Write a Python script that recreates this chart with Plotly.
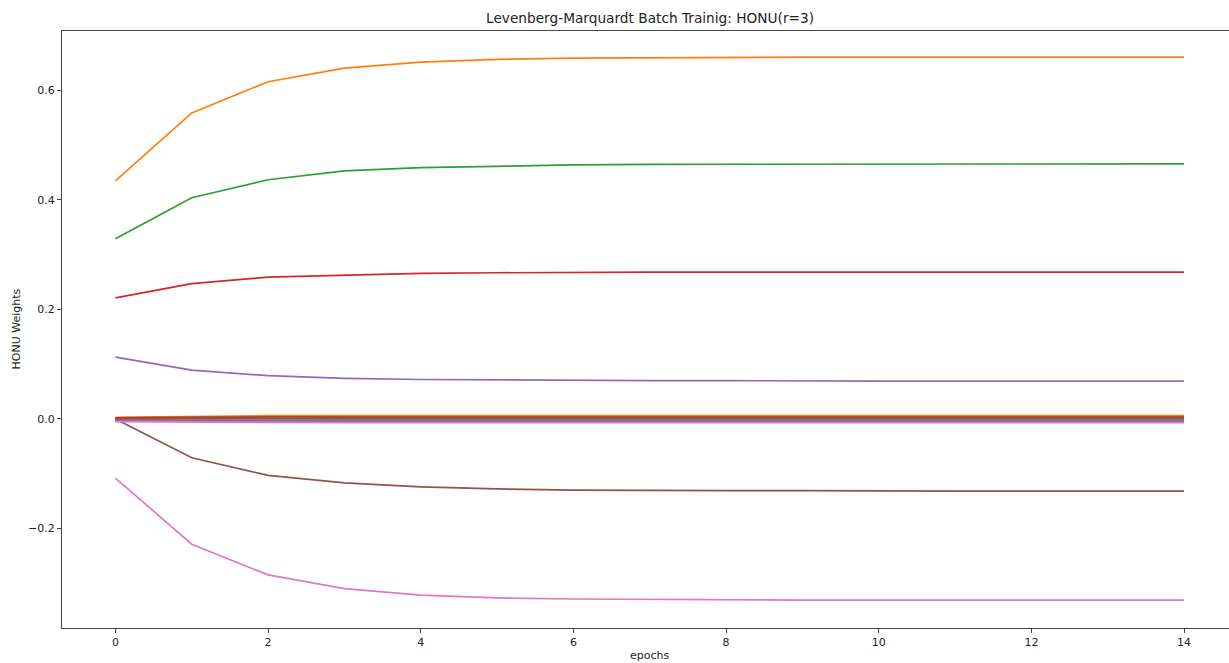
import plotly.graph_objects as go

# Training epochs
epochs = list(range(15))

# HONU (r=3) weight trajectories over Levenberg-Marquardt batch epochs
w00 = [-0.002, -0.002, -0.002, -0.002, -0.002, -0.002, -0.002, -0.002, -0.002, -0.002, -0.002, -0.002, -0.002, -0.002, -0.002]
w01 = [0.435, 0.559, 0.616, 0.641, 0.652, 0.657, 0.659, 0.660, 0.661, 0.661, 0.661, 0.661, 0.661, 0.661, 0.661]
w02 = [0.329, 0.404, 0.437, 0.453, 0.459, 0.462, 0.464, 0.465, 0.465, 0.466, 0.466, 0.466, 0.466, 0.466, 0.466]
w03 = [0.221, 0.247, 0.259, 0.263, 0.266, 0.267, 0.268, 0.268, 0.268, 0.268, 0.268, 0.268, 0.268, 0.268, 0.268]
w04 = [0.113, 0.089, 0.079, 0.074, 0.072, 0.071, 0.070, 0.070, 0.070, 0.069, 0.069, 0.069, 0.069, 0.069, 0.069]
w05 = [0.000, -0.071, -0.103, -0.117, -0.124, -0.128, -0.130, -0.131, -0.131, -0.131, -0.132, -0.132, -0.132, -0.132, -0.132]
w06 = [-0.108, -0.229, -0.285, -0.310, -0.322, -0.327, -0.329, -0.330, -0.331, -0.331, -0.331, -0.331, -0.331, -0.331, -0.331]
w07 = [-0.001, -0.0015, -0.0015, -0.0015, -0.0015, -0.0015, -0.0015, -0.0015, -0.0015, -0.0015, -0.0015, -0.0015, -0.0015, -0.0015, -0.0015]
w08 = [0.000, 0.001, 0.001, 0.001, 0.001, 0.001, 0.001, 0.001, 0.001, 0.001, 0.001, 0.001, 0.001, 0.001, 0.001]
w09 = [-0.003, -0.004, -0.004, -0.004, -0.004, -0.004, -0.004, -0.004, -0.004, -0.004, -0.004, -0.004, -0.004, -0.004, -0.004]
w10 = [-0.003, -0.004, -0.004, -0.004, -0.004, -0.004, -0.004, -0.004, -0.004, -0.004, -0.004, -0.004, -0.004, -0.004, -0.004]
w11 = [0.003, 0.005, 0.006, 0.006, 0.006, 0.006, 0.006, 0.006, 0.006, 0.006, 0.006, 0.006, 0.006, 0.006, 0.006]
w12 = [0.002, 0.003, 0.0035, 0.0035, 0.0035, 0.0035, 0.0035, 0.0035, 0.0035, 0.0035, 0.0035, 0.0035, 0.0035, 0.0035, 0.0035]
w13 = [0.002, 0.003, 0.0035, 0.0035, 0.0035, 0.0035, 0.0035, 0.0035, 0.0035, 0.0035, 0.0035, 0.0035, 0.0035, 0.0035, 0.0035]
w14 = [-0.003, -0.004, -0.004, -0.004, -0.004, -0.004, -0.004, -0.004, -0.004, -0.004, -0.004, -0.004, -0.004, -0.004, -0.004]
w15 = [0.000, 0.001, 0.001, 0.001, 0.001, 0.001, 0.001, 0.001, 0.001, 0.001, 0.001, 0.001, 0.001, 0.001, 0.001]
w16 = [-0.005, -0.006, -0.0065, -0.007, -0.007, -0.007, -0.007, -0.007, -0.007, -0.007, -0.007, -0.007, -0.007, -0.007, -0.007]

weights = [w00, w01, w02, w03, w04, w05, w06, w07, w08,
           w09, w10, w11, w12, w13, w14, w15, w16]

y_ticks = [-0.2, 0.0, 0.2, 0.4, 0.6]
x_ticks = [0, 2, 4, 6, 8, 10, 12, 14]

palette = ["#1f77b4", "#ff7f0e", "#2ca02c", "#d62728", "#9467bd",
           "#8c564b", "#e377c2", "#7f7f7f", "#bcbd22", "#17becf"]

fig = go.Figure()
for i, w in enumerate(weights):
    fig.add_trace(go.Scatter(
        x=epochs, y=w, mode="lines",
        line=dict(color=palette[i % len(palette)], width=1.7),
        showlegend=False, hoverinfo="skip",
    ))

font_family = "DejaVu Sans"
axis_color = "#444444"

fig.update_layout(
    width=1229, height=663,
    margin=dict(l=62, r=0, t=31, b=35),
    paper_bgcolor="white", plot_bgcolor="white",
    font=dict(family=font_family, size=11, color="#222222"),
    annotations=[
        dict(text="Levenberg-Marquardt Batch Trainig: HONU(r=3)",
             xref="paper", yref="paper", x=(650 - 62) / (1229 - 62), y=1,
             yshift=13, xanchor="center", yanchor="middle", showarrow=False,
             font=dict(size=13.7, family=font_family, color="#222222")),
        dict(text="epochs", xref="paper", yref="paper",
             x=(650 - 62) / (1229 - 62), y=0, yshift=-27,
             xanchor="center", yanchor="middle", showarrow=False,
             font=dict(size=11, family=font_family, color="#222222")),
        dict(text="HONU Weights", xref="paper", yref="paper",
             x=0, xshift=-46, y=0.5, textangle=-90,
             xanchor="center", yanchor="middle", showarrow=False,
             font=dict(size=11, family=font_family, color="#222222")),
    ],
)

fig.update_xaxes(
    range=[-0.7, (1229 - 116) / 76.29],
    tickvals=x_ticks, ticktext=[str(t) for t in x_ticks],
    ticks="outside", ticklen=4, tickcolor=axis_color, tickwidth=1,
    showline=True, linecolor=axis_color, linewidth=1, mirror=True,
    showgrid=False, zeroline=False,
)
fig.update_yaxes(
    range=[-0.382, 0.7087],
    tickvals=y_ticks, ticktext=[f"{t:.1f}".replace("-", "\u2212") for t in y_ticks],
    ticks="outside", ticklen=4, tickcolor=axis_color, tickwidth=1,
    showline=True, linecolor=axis_color, linewidth=1, mirror=False,
    showgrid=False, zeroline=False,
)

fig.write_html("out.html")
